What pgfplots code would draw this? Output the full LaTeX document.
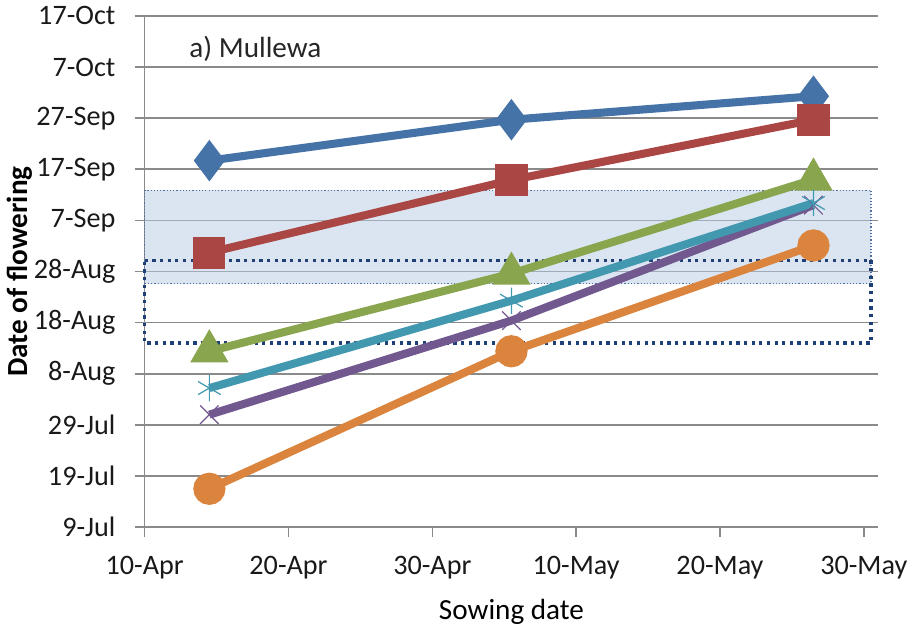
\documentclass[border=0pt]{standalone}
\usepackage{pgfplots}
\pgfplotsset{compat=1.18}
\usepackage{fontspec}
\setmainfont{Carlito}
\definecolor{cblue}{HTML}{4572A7}
\definecolor{cred}{HTML}{AA4643}
\definecolor{cgreen}{HTML}{89A54E}
\definecolor{cpurple}{HTML}{71588F}
\definecolor{ccyan}{HTML}{4198AF}
\definecolor{corange}{HTML}{DB843D}
\definecolor{gridgray}{HTML}{8A8A8A}
\definecolor{boxfill}{HTML}{B8CCE4}
\definecolor{boxline}{HTML}{4F6FA0}
\definecolor{darkdot}{HTML}{1F3F77}
\begin{document}
\begin{tikzpicture}
\begin{axis}[
  scale only axis,
  width=364.5pt, height=254pt,
  xmin=0, xmax=51, ymin=0, ymax=100,
  axis x line*=bottom, axis y line*=left,
  axis line style={gridgray, line width=0.8pt, -},
  xtick={0,10,20,30,40,50},
  xticklabels={10-Apr,20-Apr,30-Apr,10-May,20-May,30-May},
  ytick={0,10,...,100},
  yticklabels={9-Jul,19-Jul,29-Jul,8-Aug,18-Aug,28-Aug,7-Sep,17-Sep,27-Sep,7-Oct,17-Oct},
  tick align=outside, major tick length=5pt,
  tick style={gridgray, line width=0.8pt},
  ymajorgrids, grid style={gridgray, line width=0.8pt},
  ticklabel style={font=\fontsize{14}{16}\selectfont, color=black!90},
  xticklabel style={yshift=-6pt},
  yticklabel style={xshift=-6pt},
  xlabel={Sowing date},
  ylabel={\textbf{Date of flowering}},
  label style={font=\fontsize{14.5}{16}\selectfont},
  xlabel style={yshift=-3pt},
  ylabel style={yshift=-6pt},
  clip=false,
]
% optimal flowering window (shaded)
\addplot[draw=boxline, densely dotted, line width=0.6pt, fill=boxfill, fill opacity=0.5] coordinates {(0,47.6) (50.5,47.6) (50.5,65.9) (0,65.9)} -- cycle;
% dotted window
\addplot[draw=darkdot, line width=1.6pt, dash pattern=on 1.6pt off 2.2pt] coordinates {(0,52.2) (50.5,52.2) (50.5,36.0) (0,36.0) (0,52.2)};
% series
\addplot[cblue, line width=4pt, mark=diamond*, mark size=7pt, mark options={solid}] coordinates {(4.5,71.7) (25.5,79.7) (46.5,84.3)};
\addplot[cred, line width=4pt, mark=square*, mark size=6pt] coordinates {(4.5,53.7) (25.5,67.9) (46.5,79.7)};
\addplot[cgreen, line width=4pt, mark=triangle*, mark size=7pt] coordinates {(4.5,34.4) (25.5,49.6) (46.5,68.0)};
\addplot[cpurple, line width=4pt, mark=x, mark size=6.5pt, mark options={line width=0.6pt}] coordinates {(4.5,22.0) (25.5,40.4) (46.5,63.0)};
\addplot[ccyan, line width=4pt, mark=asterisk, mark size=6.5pt, mark options={line width=0.6pt}] coordinates {(4.5,27.2) (25.5,44.3) (46.5,63.4)};
\addplot[corange, line width=4pt, mark=*, mark size=6pt] coordinates {(4.5,7.5) (25.5,34.4) (46.5,55.1)};
\node[font=\fontsize{14.5}{16}\selectfont, color=black!85] at (axis cs:7.7,93.5) {a) Mullewa};
\end{axis}
\end{tikzpicture}
\end{document}
